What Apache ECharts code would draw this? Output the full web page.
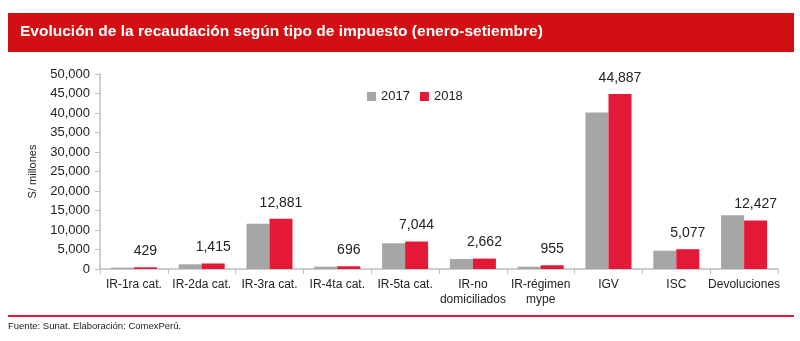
<!DOCTYPE html>
<html><head><meta charset="utf-8">
<script src="https://cdn.jsdelivr.net/npm/echarts@6/dist/echarts.min.js"></script>
<style>html,body{margin:0;padding:0;background:#fff}#c{width:800px;height:341px}</style>
</head><body><div id="c"></div>
<script>
const categories = ['IR-1ra cat.', 'IR-2da cat.', 'IR-3ra cat.', 'IR-4ta cat.', 'IR-5ta cat.', 'IR-no\ndomiciliados', 'IR-régimen\nmype', 'IGV', 'ISC', 'Devoluciones'];
const values2017 = [350, 1200, 11600, 600, 6600, 2550, 600, 40100, 4700, 13800];
const values2018 = [429, 1415, 12881, 696, 7044, 2662, 955, 44887, 5077, 12427];
const yTicks = [0, 5000, 10000, 15000, 20000, 25000, 30000, 35000, 40000, 45000, 50000];

const fmt = v => Number(v).toLocaleString('en-US');
const font = 'Liberation Sans, Arial, sans-serif';
const chart = echarts.init(document.getElementById('c'));
chart.setOption({
  animation: false,
  textStyle: { fontFamily: font },
  graphic: [
    { type: 'rect', shape: { x: 8, y: 13, width: 786, height: 39 }, style: { fill: '#D20F12' }, z: 0 },
    { type: 'text', left: 20, top: 24, style: { text: 'Evolución de la recaudación según tipo de impuesto (enero-setiembre)', fill: '#fff', font: 'bold 15.5px ' + font }, z: 10 },
    { type: 'rect', shape: { x: 8, y: 315, width: 786, height: 2 }, style: { fill: '#E31937' }, z: 0 },
    { type: 'text', left: 8, top: 321, style: { text: 'Fuente: Sunat. Elaboración: ComexPerú.', fill: '#222', font: '9.5px ' + font }, z: 10 }
  ],
  legend: {
    data: ['2017', '2018'], left: 362, top: 85, itemWidth: 9, itemHeight: 9, itemGap: 10,
    textStyle: { fontSize: 13, color: '#222', fontFamily: font }, icon: 'rect'
  },
  grid: { left: 100, right: 22, top: 74, bottom: 72 },
  xAxis: {
    type: 'category', data: categories,
    axisLine: { lineStyle: { color: '#BFBFBF', width: 1.5 } },
    axisTick: { show: true, alignWithLabel: false, length: 5, lineStyle: { color: '#BFBFBF' } },
    axisLabel: { color: '#222', fontSize: 12, margin: 8, lineHeight: 15, interval: 0, fontFamily: font }
  },
  yAxis: {
    type: 'value', min: 0, max: 50000, interval: 5000,
    name: 'S/ millones', nameLocation: 'middle', nameGap: 62, nameRotate: 90,
    nameTextStyle: { fontSize: 11, color: '#222', fontFamily: font },
    splitLine: { show: false },
    axisLine: { show: true, lineStyle: { color: '#BFBFBF', width: 1.5 } },
    axisTick: { show: true, length: 5, lineStyle: { color: '#BFBFBF' } },
    axisLabel: { color: '#222', fontSize: 13, margin: 10, fontFamily: font, formatter: v => fmt(v) }
  },
  series: [
    { name: '2017', type: 'bar', data: values2017, barWidth: 23, barGap: '0%', itemStyle: { color: '#A6A6A6' } },
    { name: '2018', type: 'bar', data: values2018, barWidth: 23, barGap: '0%', itemStyle: { color: '#E31937' },
      label: { show: true, position: 'top', distance: 9, fontSize: 14, color: '#222', fontFamily: font, formatter: p => fmt(p.value) } }
  ]
});
</script></body></html>
